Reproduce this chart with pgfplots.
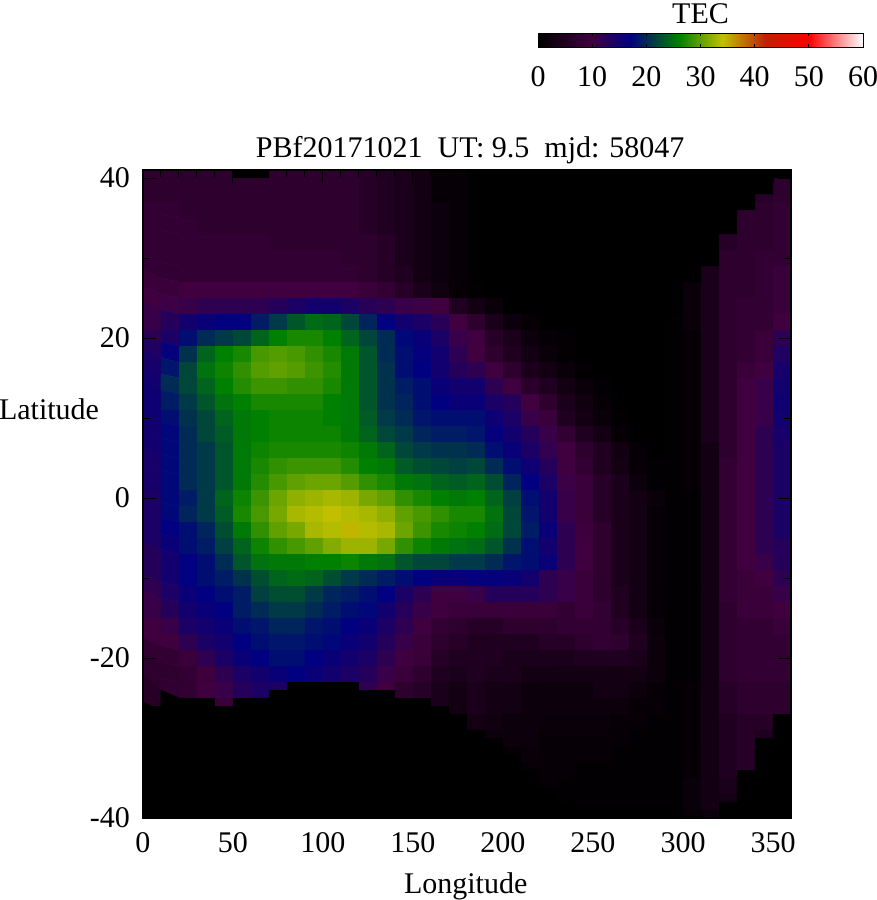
\documentclass[border=0pt]{standalone}
\usepackage{fontspec}
\usepackage{pgfplots}
\pgfplotsset{compat=1.18}
\setmainfont{Liberation Serif}
\newcommand\lbl{\fontsize{30}{34}\selectfont}
\begin{document}
\lbl
\begin{tikzpicture}[font=\lbl]
\path[use as bounding box] (0,0) rectangle (877pt,900pt);
\begin{axis}[
  at={(143pt,82pt)}, anchor=south west,
  scale only axis, width=648pt, height=648pt,
  xmin=0, xmax=360, ymin=-40, ymax=41,
  xtick={0,50,...,350}, xticklabels={0,50,100,150,200,250,300,350},
  ytick={-40,-20,0,20,40}, yticklabels={-40,-20,0,20,40},
  xticklabel shift=4pt, yticklabel shift=3pt,
  minor x tick num=4, minor y tick num=1,
  tick align=inside, tick pos=both,
  major tick length=13pt, minor tick length=7pt,
  axis line style={line width=1.2pt}, tick style={black,line width=1pt},
  axis on top,
  title={PBf20171021\ \ UT: 9.5\ \ mjd: 58047},
  title style={at={(axis description cs:0.505,1.0216)},anchor=center},
  xlabel={Longitude},
  xlabel style={at={(axis description cs:0.498,-0.105)},anchor=center},
  ylabel={Latitude},
  ylabel style={at={(axis description cs:-0.145,0.631)},anchor=center,rotate=-90},
  colormap={tec}{rgb255(0)=(0,0,0) rgb255(10)=(64,0,64) rgb255(17)=(0,0,128) rgb255(26)=(0,128,0) rgb255(34)=(192,192,0) rgb255(42)=(192,32,0) rgb255(50)=(255,0,0) rgb255(60)=(255,255,255)},
  point meta min=0, point meta max=60,
  colorbar horizontal,
  colorbar style={
    at={(0.6096,1.1898)}, anchor=south west,
    width=325pt, height=14pt,
    xtick={0,10,20,30,40,50,60}, xticklabels={0,10,20,30,40,50,60},
    xticklabel pos=lower, xticklabel shift=9pt,
    title={TEC},
    title style={at={(axis description cs:0.5,1.95)},anchor=center},
    tick style={black,line width=0.8pt},
    major tick length=3pt,
  },
]
\addplot[matrix plot*, mesh/cols=36, point meta=\thisrowno{0}] table[row sep=crcr, header=false,
  x expr={5+10*mod(\coordindex,36)}, y expr={40-2*floor(\coordindex/36)}] {
7\\7\\7\\7\\7\\7\\7\\7\\7\\7\\7\\7\\6\\5\\4\\3\\1\\1\\0\\0\\0\\0\\0\\0\\0\\0\\0\\0\\0\\0\\0\\0\\0\\0\\0\\7\\
7\\7\\7\\7\\7\\7\\7\\7\\7\\7\\7\\7\\6\\5\\4\\3\\1\\1\\0\\0\\0\\0\\0\\0\\0\\0\\0\\0\\0\\0\\0\\0\\0\\0\\6\\7\\
8\\8\\7\\7\\7\\7\\7\\7\\7\\7\\7\\7\\6\\5\\4\\3\\2\\1\\0\\0\\0\\0\\0\\0\\0\\0\\0\\0\\0\\0\\0\\0\\0\\7\\7\\8\\
8\\8\\8\\7\\7\\7\\7\\7\\7\\7\\7\\7\\6\\5\\4\\3\\2\\1\\0\\0\\0\\0\\0\\0\\0\\0\\0\\0\\0\\0\\0\\0\\0\\7\\7\\8\\
8\\8\\8\\8\\8\\8\\8\\7\\7\\7\\7\\7\\7\\6\\4\\3\\2\\1\\0\\0\\0\\0\\0\\0\\0\\0\\0\\0\\0\\0\\0\\0\\6\\7\\7\\8\\
8\\8\\8\\8\\8\\8\\8\\8\\8\\8\\8\\7\\7\\6\\4\\3\\2\\1\\0\\0\\0\\0\\0\\0\\0\\0\\0\\0\\0\\0\\0\\0\\7\\7\\8\\8\\
8\\8\\8\\8\\8\\8\\8\\8\\8\\8\\8\\8\\7\\6\\5\\3\\2\\1\\0\\0\\0\\0\\0\\0\\0\\0\\0\\0\\0\\0\\0\\4\\7\\7\\8\\9\\
9\\9\\10\\10\\10\\10\\10\\10\\10\\10\\10\\10\\9\\8\\6\\4\\2.5\\1\\0.5\\0\\0\\0\\0\\0\\0\\0\\0\\0\\0\\0\\1.5\\4\\7\\7\\8\\9\\
10\\10.5\\11\\12\\12\\12\\12\\13\\14\\15\\15\\14\\12.5\\12\\11\\10.5\\10\\5\\3\\1.5\\0\\0\\0\\0\\0\\0\\0\\0\\0\\0\\1.5\\4\\7\\8\\8\\9\\
11\\13\\15\\16\\17\\17\\19\\21\\23\\24.5\\24\\22\\19.5\\17\\15\\14\\12.5\\10\\7\\4\\2\\1\\0\\0\\0\\0\\0\\0\\0\\0.5\\1.5\\4\\7\\8\\8\\10\\
12\\14\\18\\20\\21\\22\\24\\26\\27\\27\\26\\24\\22\\20\\17.5\\16\\14\\11\\10\\6\\4\\2\\1\\0.5\\0\\0\\0\\0\\0\\0.5\\1\\4\\7\\8\\9\\12\\
13.5\\16.5\\20.5\\24\\26\\27\\29\\29.5\\29\\28\\27\\25.5\\23\\20\\18\\16.5\\15\\12\\10\\7\\5\\3\\1.5\\0.5\\0\\0\\0\\0\\0\\0.5\\1\\4\\7\\8\\9\\13.5\\
14.5\\18.5\\22\\25\\26.5\\28\\29.5\\30\\29.5\\28.5\\27.5\\25.5\\23\\20.5\\18\\17\\15\\13\\12\\10\\7\\4\\3\\1.5\\0.5\\0\\0\\0\\0\\0.5\\1\\4\\7\\9\\10\\14.5\\
15\\20\\22\\24\\26\\27.5\\28.5\\28.5\\28\\28\\27\\25.5\\23\\20.5\\19\\18\\16\\15\\15\\12\\10\\6.5\\5\\3\\1.5\\0.5\\0\\0\\0\\0.5\\1\\4\\7\\10\\11\\15\\
15.5\\19\\21\\23\\25\\26\\27\\27\\27\\27\\26\\25.5\\23\\20.5\\19.5\\18\\17\\16\\16\\14\\13\\10\\7\\4\\2.5\\1\\0\\0\\0\\0.5\\1\\4\\7\\10\\11\\15.5\\
15.5\\18\\20.5\\22\\24\\25.5\\26\\26.5\\26.5\\26.5\\26\\25.5\\23.5\\21\\20\\18.5\\18\\18\\18\\15.5\\14\\11\\9\\5\\3\\1.5\\0.5\\0\\0\\0.5\\1\\4\\7\\10\\11\\15\\
15\\17.5\\20\\22\\23.5\\25.5\\26\\26.5\\26.5\\26.5\\26.5\\25.5\\24\\22\\21\\19.5\\19\\19\\18.5\\16.5\\15\\13\\11\\8\\5\\3\\1\\0\\0\\0.5\\1\\4\\7\\10\\12\\14.5\\
15\\17.5\\20\\21\\23\\25.5\\26.5\\27\\27\\27\\27\\26.5\\25.5\\24\\22\\21\\20.5\\20.5\\20\\18\\16\\14\\11.5\\10\\7\\5\\2.5\\1\\0\\0.5\\1\\3\\7\\10\\12\\14\\
14.5\\17.5\\20\\21\\23\\25.5\\27\\28\\28.5\\28.5\\28.5\\27.5\\26\\25.5\\23.5\\22.5\\22\\21.5\\22\\20\\18\\15.5\\13\\10\\8\\5\\3\\1\\0.5\\0.5\\1\\3\\8\\10\\12\\14\\
14.5\\17.5\\20\\21\\23\\25.5\\27.5\\29\\30\\30.5\\30.5\\29.5\\28\\27\\25.5\\25\\24\\23.5\\24\\22.5\\19.5\\17\\14\\10.5\\9\\6\\4\\2\\0.5\\0.5\\1\\3\\8\\10\\12\\14\\
14\\17.5\\19\\21\\24\\26.5\\28.5\\30.5\\32\\32.5\\33\\32.5\\31\\30\\28\\27\\26\\25.5\\26\\24\\21.5\\18\\15\\11\\9\\6\\4\\3\\1.5\\0.5\\0.5\\3\\8\\10\\12\\14\\
14\\17.5\\19.5\\21\\23.5\\27\\29\\31\\33\\33.5\\34\\33.5\\33\\32\\30\\29\\28\\27\\27\\25\\22\\18.5\\15\\11\\9\\6\\4\\3\\1\\0.5\\0.5\\3\\8\\10\\12\\14\\
14\\17\\18\\19.5\\22.5\\25.5\\28\\30\\31\\33\\33.5\\34.5\\33.5\\33\\30.5\\28.5\\27\\26.5\\26\\24.5\\22\\19\\16\\12\\9.5\\7\\4\\3\\1\\0.5\\0.5\\3\\8\\10\\12\\14\\
14\\16\\18\\19\\21.5\\24\\26.5\\28\\29\\30\\31.5\\32.5\\32.5\\31\\28\\26.5\\25.5\\25\\24.5\\23\\20.5\\18\\15\\12\\10\\7\\4\\3\\1\\0.5\\0.5\\3\\8\\10\\12\\13\\
13\\15\\17\\18\\20\\23\\25\\25.5\\25.5\\26\\26\\26.5\\25.5\\25\\23\\22\\22\\21\\21\\20\\18.5\\18\\16\\12\\10\\7\\4\\3\\1\\0.5\\0.5\\3\\8\\10\\11\\13\\
13\\15\\17\\18\\19\\20.5\\22.5\\24\\24.5\\24\\22.5\\21\\20\\19\\18\\17\\16\\16\\16.5\\16.5\\16\\15\\12\\11\\9\\7\\4\\3\\1\\0.5\\0.5\\3\\8\\9\\10\\12\\
12\\14\\16\\17\\18\\19\\21.5\\22.5\\22.5\\21\\19.5\\19\\18\\17\\14\\12\\10\\10\\11\\13\\13\\13\\12\\11\\9\\7\\5\\3\\1\\0.5\\0.5\\3\\8\\9\\9\\11\\
11\\13\\15\\16\\17\\19\\20\\21\\21\\20\\19\\18\\17.5\\15\\13\\11\\10\\9\\9\\9\\9\\9\\9\\8\\9\\8\\5\\3\\1\\0.5\\0.5\\3\\7\\9\\9\\10\\
10\\11\\14\\15\\16\\18\\18.5\\19.5\\19.5\\18.5\\18\\17\\16\\14\\12\\10\\8\\7\\6\\6\\7\\7\\7\\8\\8\\8\\6\\4\\1.5\\0.5\\0.5\\3\\7\\8\\8\\9\\
10\\10\\12\\14\\15\\17\\18\\18.5\\18.5\\18\\17.5\\16\\15\\13\\11\\9\\7\\6\\5\\5\\5\\5\\6\\6\\7\\8\\7\\5\\2\\0.5\\0.5\\3\\7\\8\\8\\8\\
8\\8\\9\\12\\14\\16\\17\\18\\18\\17\\16\\15\\14\\12\\10\\9\\6\\5\\5\\5\\4\\4\\4\\4\\5\\5\\5\\4\\2\\0.5\\0.5\\3\\7\\8\\8\\8\\
7\\7\\8\\9.5\\12\\14\\15\\16\\17\\16\\15\\14\\13\\11\\9\\7\\5\\4\\5\\4\\4\\3\\3\\3\\3\\3\\3\\3\\2\\0.5\\0.5\\3\\7\\8\\8\\8\\
7\\7.5\\8\\10\\11\\13\\14\\14\\15\\15\\14\\14\\12\\10\\7\\6\\4\\3\\4\\3\\3\\2\\2\\2\\2\\3\\3\\2\\1\\0.5\\1\\3\\6\\7\\7\\7\\
6\\0\\0\\0\\9\\0\\0\\0\\0\\0\\0\\0\\0\\0\\0\\0\\4\\3\\4\\3\\3\\2\\2\\2\\2\\2\\2\\1\\1\\0.5\\1\\3\\6\\7\\7\\7\\
0\\0\\0\\0\\0\\0\\0\\0\\0\\0\\0\\0\\0\\0\\0\\0\\0\\0\\3\\2.5\\2\\2\\1.5\\1.5\\1.5\\1.5\\1\\1\\0.5\\0.5\\1\\3\\5\\6\\6\\0\\
0\\0\\0\\0\\0\\0\\0\\0\\0\\0\\0\\0\\0\\0\\0\\0\\0\\0\\0\\2\\2\\2\\1\\1\\1\\1\\1\\0.5\\0.5\\0.5\\1\\3\\5\\6\\5\\0\\
0\\0\\0\\0\\0\\0\\0\\0\\0\\0\\0\\0\\0\\0\\0\\0\\0\\0\\0\\0\\1\\1.5\\1\\1\\1\\1\\0.5\\0.5\\0.5\\0.5\\1\\3\\5\\6\\0\\0\\
0\\0\\0\\0\\0\\0\\0\\0\\0\\0\\0\\0\\0\\0\\0\\0\\0\\0\\0\\0\\0\\1\\1\\1\\0.5\\0.5\\0.5\\0.5\\0.5\\0.5\\1\\3\\5\\6\\0\\0\\
0\\0\\0\\0\\0\\0\\0\\0\\0\\0\\0\\0\\0\\0\\0\\0\\0\\0\\0\\0\\0\\0\\1\\0.5\\0.5\\0.5\\0.5\\0.5\\0.5\\0.5\\1.5\\3\\4\\0\\0\\0\\
0\\0\\0\\0\\0\\0\\0\\0\\0\\0\\0\\0\\0\\0\\0\\0\\0\\0\\0\\0\\0\\0\\0\\0.5\\0.5\\0.5\\0.5\\0.5\\0.5\\0.5\\1.5\\3\\3\\0\\0\\0\\
0\\0\\0\\0\\0\\0\\0\\0\\0\\0\\0\\0\\0\\0\\0\\0\\0\\0\\0\\0\\0\\0\\0\\0\\0\\0\\0\\0\\0\\0\\1\\2\\0\\0\\0\\0\\
};
% the black stair-shaped areas with no data
\addplot[fill=black,draw=none,forget plot] coordinates {(0,-40)(0,-26)(10,-26)(10,-25)(40,-25)(40,-26)(50,-26)(50,-25)(70,-25)(70,-24)(80,-24)(80,-23)(120,-23)(120,-24)(140,-24)(140,-25)(160,-25)(160,-26)(170,-26)(170,-27)(180,-27)(180,-29)(190,-29)(190,-30)(200,-30)(200,-32)(210,-32)(210,-34)(220,-34)(220,-36)(230,-36)(230,-38)(240,-38)(240,-40)} --cycle;
\addplot[fill=black,draw=none,forget plot] coordinates {(320,-40)(320,-38)(330,-38)(330,-34)(340,-34)(340,-30)(350,-30)(350,-27)(360,-27)(360,-40)} --cycle;
\addplot[fill=black,draw=none,forget plot] coordinates {(300,41)(300,27)(310,27)(310,29)(320,29)(320,33)(330,33)(330,36)(340,36)(340,38)(350,38)(350,40)(360,40)(360,41)} --cycle;
\addplot[fill=black,draw=none,forget plot] coordinates {(50,40)(70,40)(70,41)(50,41)} --cycle;
\end{axis}
\end{tikzpicture}
\end{document}
